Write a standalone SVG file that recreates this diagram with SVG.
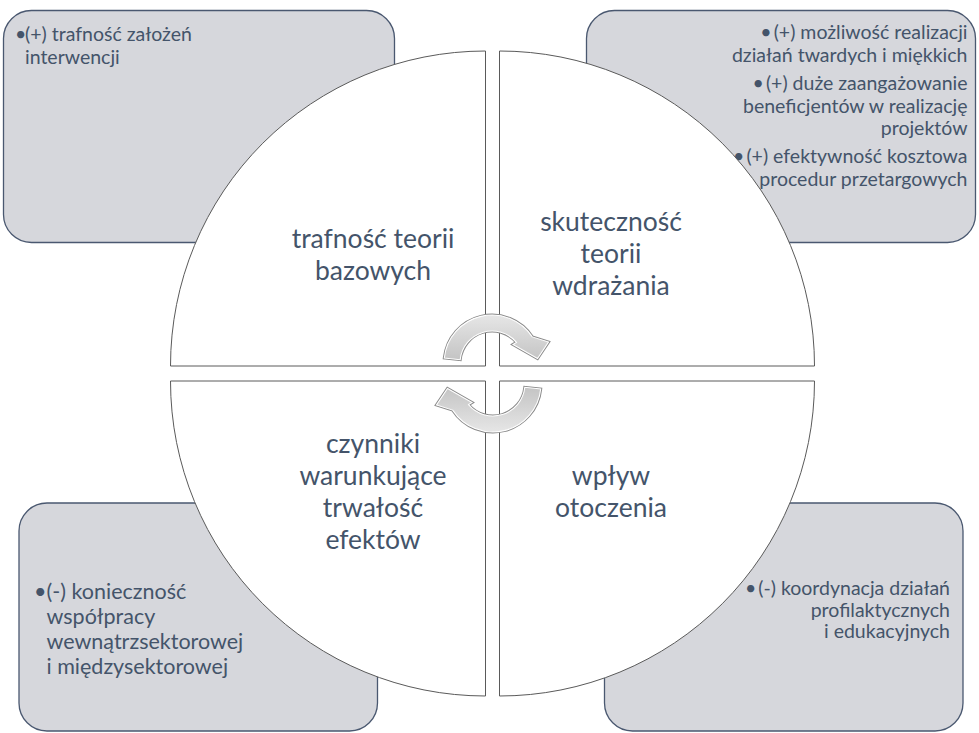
<svg xmlns="http://www.w3.org/2000/svg" width="979" height="733" viewBox="0 0 979 733">
<style>
.box{fill:#d6d7dc;stroke:#4a5870;stroke-width:1.3}
.quad{fill:#ffffff;stroke:#5a5a5a;stroke-width:1}
.t{font-family:Lato,"Liberation Sans",sans-serif;fill:#44546a}
.big{font-size:26.5px;text-anchor:middle}
.sm{font-size:19.5px}
.md{font-size:21.5px}
.end{text-anchor:end}
.arr-o{fill:none;stroke:#8a8a8a;stroke-width:3}
.arr{fill:url(#ag);stroke:#ffffff;stroke-width:1.1}
</style>
<defs>
<linearGradient id="ag" x1="0" y1="0" x2="0" y2="1">
<stop offset="0" stop-color="#e6e6e6"/>
<stop offset="1" stop-color="#c4c4c4"/>
</linearGradient>
<path id="arrow" d="M444.3,358 A48,48 0 0 1 532.3,336.9 L548.5,342 L537.5,358.5 L513,344.5 L516.5,342.4 A32,32 0 0 0 460.2,359.7 Z"/>
</defs>
<rect width="979" height="733" fill="#ffffff"/>
<g id="box-tl">
<rect class="box" x="3.5" y="10.5" width="391" height="232" rx="28"/>
<text class="t sm" x="15" y="41">•</text>
<text class="t sm" x="25" y="41">(+) trafność założeń</text>
<text class="t sm" x="25" y="63.5">interwencji</text>
</g>
<g id="box-tr">
<rect class="box" x="586.5" y="10.5" width="389" height="232" rx="28"/>
<text class="t sm end" x="967.5" y="39">•<tspan dx="2">(+) możliwość realizacji</tspan></text>
<text class="t sm end" x="967.5" y="61.5">działań twardych i miękkich</text>
<text class="t sm end" x="967.5" y="90">•<tspan dx="2">(+) duże zaangażowanie</tspan></text>
<text class="t sm end" x="967.5" y="112.5">beneficjentów w realizację</text>
<text class="t sm end" x="967.5" y="135">projektów</text>
<text class="t sm end" x="967.5" y="163">•<tspan dx="2">(+) efektywność kosztowa</tspan></text>
<text class="t sm end" x="967.5" y="185.5">procedur przetargowych</text>
</g>
<g id="box-bl">
<rect class="box" x="19" y="503" width="358.5" height="228" rx="28"/>
<text class="t md" x="34" y="598.5">•</text>
<text class="t md" x="46.5" y="598.5">(-) konieczność</text>
<text class="t md" x="46.5" y="623.7">współpracy</text>
<text class="t md" x="46.5" y="648.9">wewnątrzsektorowej</text>
<text class="t md" x="46.5" y="674.1">i międzysektorowej</text>
</g>
<g id="box-br">
<rect class="box" x="604.5" y="503" width="358.5" height="228" rx="28"/>
<text class="t sm end" x="950" y="595">•<tspan dx="2">(-) koordynacja działań</tspan></text>
<text class="t sm end" x="950" y="616.7">profilaktycznych</text>
<text class="t sm end" x="950" y="638">i edukacyjnych</text>
</g>
<g id="q-tl">
<path class="quad" d="M485.5,51 V366 H170.5 A315,315 0 0 1 485.5,51 Z"/>
<text class="t big" x="373" y="248">trafność teorii</text>
<text class="t big" x="373" y="280">bazowych</text>
</g>
<g id="q-tr">
<path class="quad" d="M499.5,51 A315,315 0 0 1 814.5,366 H499.5 Z"/>
<text class="t big" x="611" y="231">skuteczność</text>
<text class="t big" x="611" y="263">teorii</text>
<text class="t big" x="611" y="295">wdrażania</text>
</g>
<g id="q-br">
<path class="quad" d="M499.5,381 H814.5 A315,315 0 0 1 499.5,696 Z"/>
<text class="t big" x="611" y="485">wpływ</text>
<text class="t big" x="611" y="517">otoczenia</text>
</g>
<g id="q-bl">
<path class="quad" d="M485.5,381 V696 A315,315 0 0 1 170.5,381 Z"/>
<text class="t big" x="373" y="453">czynniki</text>
<text class="t big" x="373" y="485">warunkujące</text>
<text class="t big" x="373" y="517">trwałość</text>
<text class="t big" x="373" y="549">efektów</text>
</g>
<g id="connectors">
<use href="#arrow" class="arr-o"/>
<use href="#arrow" class="arr"/>
<g transform="rotate(180 492.5 373.5)">
<use href="#arrow" class="arr-o"/>
<use href="#arrow" class="arr"/>
</g>
</g>
</svg>
